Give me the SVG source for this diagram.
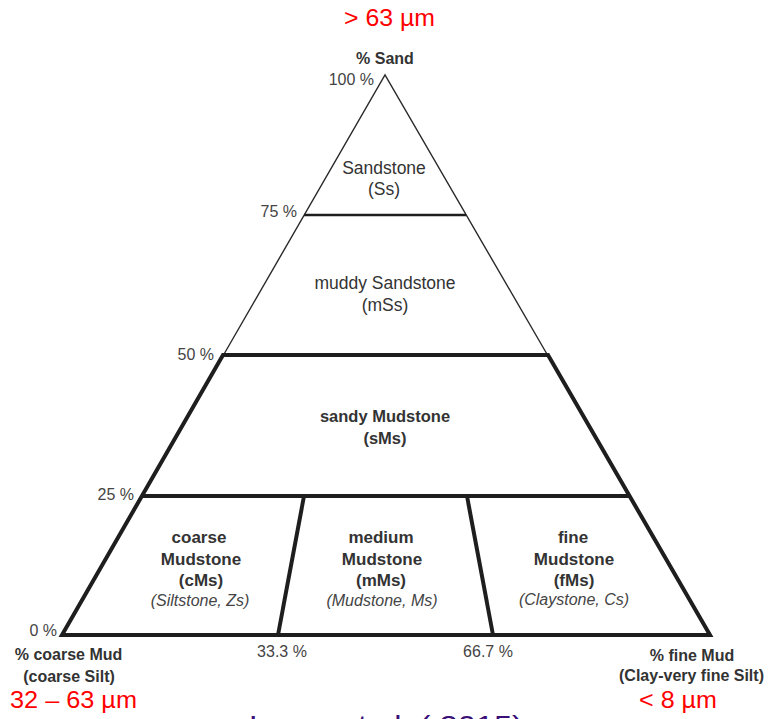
<svg xmlns="http://www.w3.org/2000/svg" width="769" height="719" viewBox="0 0 769 719">
<style>
  text { font-family: "Liberation Sans", Arial, sans-serif; fill: #333; }
  .reg { font-size: 17.5px; text-anchor: middle; }
  .bold { font-size: 16.5px; font-weight: bold; text-anchor: middle; }
  .boldl { font-size: 17px; font-weight: bold; text-anchor: middle; }
  .ital { font-size: 16px; font-style: italic; text-anchor: middle; fill: #444; }
  .pct { font-size: 16px; fill: #444; }
  .axis { font-size: 16px; font-weight: bold; }
  .red { font-size: 24px; fill: #ff0000; }
  .cite { font-size: 28px; fill: #3a1078; }
  .thin { fill: none; stroke: #2a2a2a; stroke-width: 1.4; stroke-linejoin: miter; }
  .mid { fill: none; stroke: #1e1e1e; stroke-width: 2.6; }
  .thick { fill: none; stroke: #1e1e1e; stroke-width: 4; stroke-linejoin: miter; stroke-miterlimit: 10; }
</style>
<rect x="0" y="0" width="769" height="719" fill="#ffffff"/>

<g id="connectors">
  <path class="thin" d="M223.5,355 L385,75 L547.5,355"/>
  <line class="mid" x1="304" y1="215" x2="466" y2="215"/>
  <path class="thick" d="M223,355 L548,355 L710,635 L62,635 Z"/>
  <line class="thick" x1="142" y1="496" x2="629" y2="496"/>
  <line class="thick" x1="304" y1="496" x2="278" y2="635"/>
  <line class="thick" x1="467" y1="496" x2="493" y2="635"/>
</g>

<g id="sandstone">
  <text class="reg" x="384" y="174">Sandstone</text>
  <text class="reg" x="384" y="195">(Ss)</text>
</g>
<g id="muddy-sandstone">
  <text class="reg" x="385" y="289">muddy Sandstone</text>
  <text class="reg" x="385" y="311">(mSs)</text>
</g>
<g id="sandy-mudstone">
  <text class="bold" x="385" y="422">sandy Mudstone</text>
  <text class="bold" x="385" y="444">(sMs)</text>
</g>
<g id="coarse-mudstone">
  <text class="boldl" x="199" y="543">coarse</text>
  <text class="boldl" x="201" y="565">Mudstone</text>
  <text class="boldl" x="201" y="586">(cMs)</text>
  <text class="ital" x="200" y="606">(Siltstone, Zs)</text>
</g>
<g id="medium-mudstone">
  <text class="boldl" x="381" y="543">medium</text>
  <text class="boldl" x="382" y="565">Mudstone</text>
  <text class="boldl" x="381" y="586">(mMs)</text>
  <text class="ital" x="382" y="606">(Mudstone, Ms)</text>
</g>
<g id="fine-mudstone">
  <text class="boldl" x="573" y="543">fine</text>
  <text class="boldl" x="574" y="565">Mudstone</text>
  <text class="boldl" x="574" y="586">(fMs)</text>
  <text class="ital" x="574" y="605">(Claystone, Cs)</text>
</g>

<g id="percent-labels">
  <text class="pct" x="374" y="85" text-anchor="end">100 %</text>
  <text class="pct" x="297" y="217" text-anchor="end">75 %</text>
  <text class="pct" x="214" y="360" text-anchor="end">50 %</text>
  <text class="pct" x="134" y="500" text-anchor="end">25 %</text>
  <text class="pct" x="57" y="636" text-anchor="end">0 %</text>
  <text class="pct" x="282" y="657" text-anchor="middle">33.3 %</text>
  <text class="pct" x="488" y="657" text-anchor="middle">66.7 %</text>
</g>

<g id="apex-sand">
  <text class="axis" x="385" y="64" text-anchor="middle">% Sand</text>
  <text class="red" x="344" y="26" textLength="91" lengthAdjust="spacingAndGlyphs">&gt; 63 µm</text>
</g>
<g id="corner-coarse-mud">
  <text class="axis" x="68.5" y="660" text-anchor="middle">% coarse Mud</text>
  <text class="axis" x="69" y="682" text-anchor="middle">(coarse Silt)</text>
  <text class="red" x="10" y="708" textLength="127" lengthAdjust="spacingAndGlyphs">32 – 63 µm</text>
</g>
<g id="corner-fine-mud">
  <text class="axis" x="692" y="661" text-anchor="middle">% fine Mud</text>
  <text class="axis" x="691.5" y="681" text-anchor="middle">(Clay-very fine Silt)</text>
  <text class="red" x="639" y="708" textLength="78" lengthAdjust="spacingAndGlyphs">&lt; 8 µm</text>
</g>

<text class="cite" x="249" y="735" textLength="274" lengthAdjust="spacingAndGlyphs">Lazar et al. ( 2015)</text>
</svg>
